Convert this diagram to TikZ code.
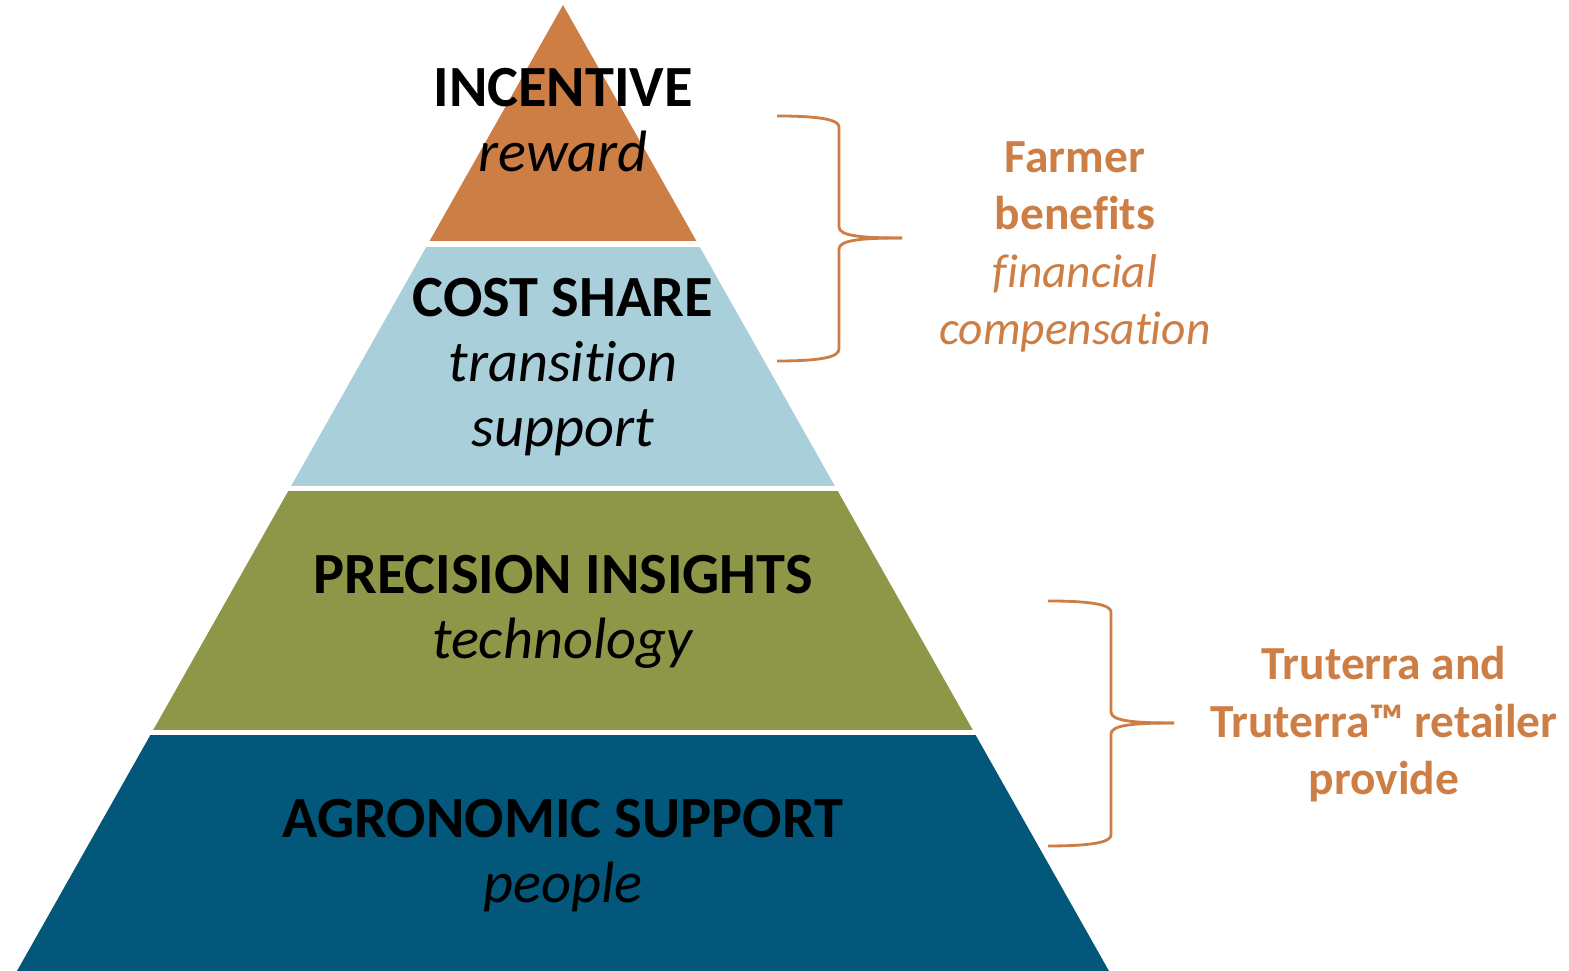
\documentclass[tikz,border=0pt]{standalone}
\usepackage{fontspec}
\setmainfont{Carlito}[Ligatures=NoCommon]
\usetikzlibrary{calc}

\definecolor{rewardorange}{RGB}{205,126,69}
\definecolor{shareblue}{RGB}{169,207,219}
\definecolor{insightolive}{RGB}{142,151,71}
\definecolor{peopleblue}{RGB}{2,87,122}

\tikzset{
  tier/.style={align=center, anchor=base, font=\fontsize{16.6}{18.5}\selectfont},
  note/.style={align=center, anchor=base, text=rewardorange, font=\fontsize{13.5}{16.4}\selectfont},
  bracket/.style={draw=rewardorange, line width=0.8pt}
}

\begin{document}
\begin{tikzpicture}
    \useasboundingbox (0,0) rectangle (15.69,-9.71);

    % --- Pyramid, cut into four tiers ---
    \begin{scope}
        \clip (0.17,-9.71) -- (5.63,-0.05) -- (11.09,-9.71) -- cycle;
        \fill[rewardorange] (0,0) rectangle (12,-2.41);
        \fill[shareblue] (0,-2.47) rectangle (12,-4.86);
        \fill[insightolive] (0,-4.91) rectangle (12,-7.30);
        \fill[peopleblue] (0,-7.35) rectangle (12,-9.71);
    \end{scope}

    % Tier labels (base = last line)
    \node[tier] (incentive) at (5.63,-1.72) {\textbf{INCENTIVE}\\\textit{reward}};
    \node[tier] (costshare) at (5.63,-4.47) {\textbf{COST SHARE}\\\textit{transition}\\\textit{support}};
    \node[tier] (precision) at (5.63,-6.59) {\textbf{PRECISION INSIGHTS}\\\textit{technology}};
    \node[tier] (agronomic) at (5.63,-9.03) {\textbf{AGRONOMIC SUPPORT}\\\textit{people}};

    % --- Upper bracket: top two tiers ---
    \coordinate (farmertip) at (9.02,-2.38);
    \draw[bracket] (7.77,-1.16) .. controls (8.22,-1.16) and (8.39,-1.20) .. (8.39,-1.27)
        -- (8.39,-2.27) .. controls (8.39,-2.36) and (8.62,-2.38) .. (farmertip);
    \draw[bracket] (farmertip) .. controls (8.62,-2.38) and (8.39,-2.40) .. (8.39,-2.49)
        -- (8.39,-3.49) .. controls (8.39,-3.57) and (8.22,-3.61) .. (7.77,-3.61);
    \node[note] (farmer) at (10.75,-3.45) {\textbf{Farmer}\\\textbf{benefits}\\\textit{financial}\\\textit{compensation}};

    % --- Lower bracket: bottom two tiers ---
    \coordinate (truterratip) at (11.74,-7.23);
    \draw[bracket] (10.48,-6.01) .. controls (10.93,-6.01) and (11.11,-6.05) .. (11.11,-6.12)
        -- (11.11,-7.12) .. controls (11.11,-7.21) and (11.34,-7.23) .. (truterratip);
    \draw[bracket] (truterratip) .. controls (11.34,-7.23) and (11.11,-7.25) .. (11.11,-7.34)
        -- (11.11,-8.35) .. controls (11.11,-8.42) and (10.93,-8.46) .. (10.48,-8.46);
    \node[note] (truterra) at (13.84,-7.95) {\textbf{Truterra and}\\\textbf{Truterra™ retailer}\\\textbf{provide}};
\end{tikzpicture}
\end{document}
